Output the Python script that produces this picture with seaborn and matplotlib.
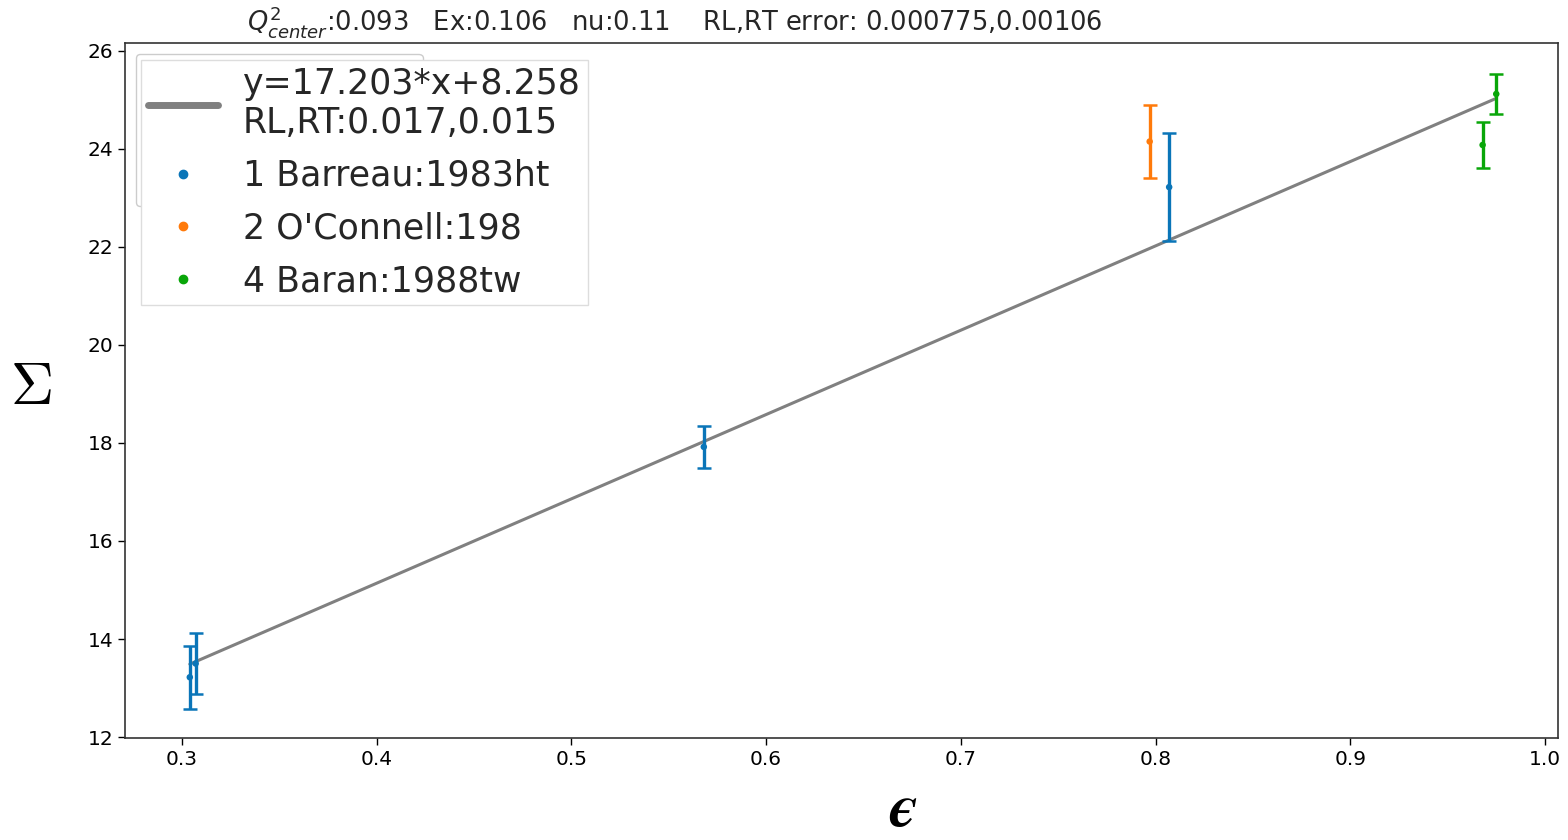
import numpy as np
import pandas as pd
import matplotlib
matplotlib.use("Agg")
import matplotlib.pyplot as plt
from matplotlib.lines import Line2D
import seaborn as sns

# Measurements: epsilon, reduced cross section and its uncertainty, per experiment
sources = ["1 Barreau:1983ht", "1 Barreau:1983ht", "1 Barreau:1983ht", "1 Barreau:1983ht",
           "2 O'Connell:198", "4 Baran:1988tw", "4 Baran:1988tw"]
eps = [0.304, 0.307, 0.568, 0.807, 0.797, 0.975, 0.968]
sigma = [13.22, 13.50, 17.92, 23.22, 24.15, 25.12, 24.08]
sigma_err = [0.64, 0.63, 0.43, 1.10, 0.75, 0.41, 0.47]

# Linear fit parameters
slope = 17.203
intercept = 8.258
rl_rt = (0.017, 0.015)
header = r"$Q^2_{center}$:0.093   Ex:0.106   nu:0.11    RL,RT error: 0.000775,0.00106"

source_order = ["1 Barreau:1983ht", "2 O'Connell:198", "4 Baran:1988tw"]
colors = ["#0a75b8", "#ff7a0a", "#09a609"]

df = pd.DataFrame({"eps": eps, "sigma": sigma, "err": sigma_err, "source": sources})

sns.set_style("ticks")
plt.rcParams["font.family"] = ["DejaVu Sans"]

fig = plt.figure(figsize=(15.68, 8.40), dpi=100)
ax = fig.add_axes([0.0797, 0.1214, 0.9139, 0.8274])

# Fit line across the measured epsilon range
xfit = np.array([min(eps), max(eps)])
fit_df = pd.DataFrame({"eps": xfit, "sigma": slope * xfit + intercept})
fit_label = f"y={slope:.3f}*x+{intercept:.3f}\nRL,RT:{rl_rt[0]:.3f},{rl_rt[1]:.3f}"
sns.lineplot(data=fit_df, x="eps", y="sigma", color="#808080", lw=2.2, ax=ax,
             label=fit_label, zorder=1)

# Error bars and points per experiment
pal = dict(zip(source_order, colors))
for src in source_order:
    sub = df[df["source"] == src]
    ax.errorbar(sub["eps"], sub["sigma"], yerr=sub["err"], fmt="none",
                ecolor=pal[src], elinewidth=2.4, capsize=4.7, capthick=1.8, zorder=2)
sns.scatterplot(data=df, x="eps", y="sigma", hue="source", hue_order=source_order,
                palette=pal, s=22, edgecolor="none", ax=ax, zorder=3)

ax.set_xticks([0.3, 0.4, 0.5, 0.6, 0.7, 0.8, 0.9, 1.0])
ax.set_yticks([12, 14, 16, 18, 20, 22, 24, 26])
ax.set_xlim(0.2707, 1.0067)
ax.set_ylim(11.98, 26.16)
ax.tick_params(labelsize=14.5, length=5, width=1, colors="black")
for sp in ax.spines.values():
    sp.set_color("#333333")
    sp.set_linewidth(1.2)

ax.set_xlabel("\u03f5", fontsize=44, family="STIXGeneral", style="italic",
              weight="bold", color="black", va="baseline")
ax.xaxis.set_label_coords(0.543, -0.1266)
ax.set_ylabel(r"$\Sigma$", fontsize=43, math_fontfamily="cm", rotation=0,
              va="center", color="black")
ax.yaxis.set_label_coords(-0.066, 0.505)

fig.text(0.4305, 0.974, header, fontsize=18.5, ha="center", va="center")

# Small legend underneath, larger legend drawn over it
handles, labels = ax.get_legend_handles_labels()
back = ax.legend(handles, labels, loc="upper left", fontsize=15.5, framealpha=1)
ax.add_artist(back)

big_handles = [Line2D([], [], color="#808080", lw=5)] + [
    Line2D([], [], ls="none", marker="o", ms=6, color=c) for c in colors]
front = ax.legend(big_handles, [fit_label] + source_order, loc="upper left",
                  bbox_to_anchor=(0.0115, 0.976), fontsize=25, framealpha=1,
                  labelspacing=0.54, borderpad=0.2, handletextpad=0.72, fancybox=False,
                  edgecolor="#dddddd", borderaxespad=0)
front.set_zorder(10)

fig.savefig("out.png", dpi=100)
